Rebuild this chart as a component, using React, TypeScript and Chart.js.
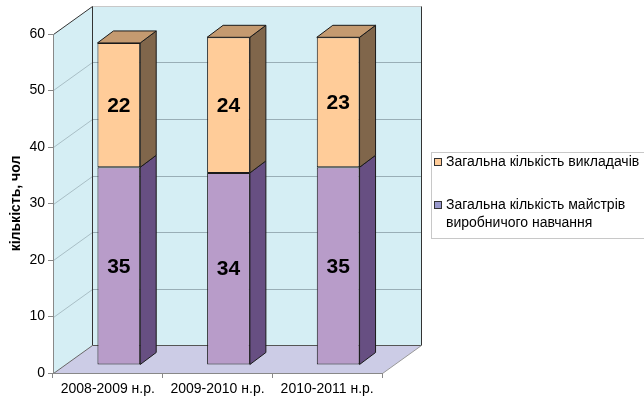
import React, { useEffect, useRef } from 'react';
import { Chart, registerables } from 'chart.js';

Chart.register(...registerables);

const categories = ['2008-2009 н.р.', '2009-2010 н.р.', '2010-2011 н.р.'];
const mastersValues = [35, 34, 35];
const teachersValues = [22, 24, 23];
const seriesNames = [
  'Загальна кількість майстрів виробничого навчання',
  'Загальна кількість викладачів',
];
const legendLines = [
  ['Загальна кількість майстрів', 'виробничого навчання'],
  ['Загальна кількість викладачів'],
];
const yTickValues = [0, 10, 20, 30, 40, 50, 60];
const yTitle = 'кількість, чол';

const FONT = "'Liberation Sans', Arial, sans-serif";
const frontColors = ['#B89CC9', '#FFCC99'];
const sideColors = ['#674F82', '#80664B'];
const topColors = ['#8F78A6', '#C49A70'];
const legendSwatch = ['#9999CC', '#FFCC99'];

// 3D geometry
const DX = 39;
const DY = -28;
const FRONT_F = 0.29;
const BAR_F = 0.42;

function poly(ctx: CanvasRenderingContext2D, pts: number[][], fill?: string, stroke?: string) {
  ctx.beginPath();
  ctx.moveTo(pts[0][0], pts[0][1]);
  for (let i = 1; i < pts.length; i++) ctx.lineTo(pts[i][0], pts[i][1]);
  ctx.closePath();
  if (fill) {
    ctx.fillStyle = fill;
    ctx.fill();
  }
  if (stroke) {
    ctx.strokeStyle = stroke;
    ctx.lineWidth = 1;
    ctx.stroke();
  }
}

function line(ctx: CanvasRenderingContext2D, pts: number[][], stroke: string) {
  ctx.beginPath();
  ctx.moveTo(pts[0][0], pts[0][1]);
  for (let i = 1; i < pts.length; i++) ctx.lineTo(pts[i][0], pts[i][1]);
  ctx.strokeStyle = stroke;
  ctx.lineWidth = 1;
  ctx.stroke();
}

const wallsPlugin = {
  id: 'walls3d',
  beforeDraw(chart: any) {
    const { ctx, chartArea: a, scales } = chart;
    const ys = scales.y;
    const L = Math.round(a.left) + 0.5;
    const R = Math.round(a.right) + 0.5;
    const T = Math.round(ys.getPixelForValue(60)) + 0.5;
    const B = Math.round(ys.getPixelForValue(0)) + 0.5;
    ctx.save();
    const wall = '#D5EEF4';
    poly(ctx, [[L + DX, B + DY], [R + DX, B + DY], [R + DX, T + DY], [L + DX, T + DY]], wall);
    poly(ctx, [[L, B], [L, T], [L + DX, T + DY], [L + DX, B + DY]], wall);
    poly(ctx, [[L, B], [R, B], [R + DX, B + DY], [L + DX, B + DY]], '#CCCCE6');
    yTickValues.forEach((v) => {
      if (v === 0 || v === 60) return;
      const p = Math.round(ys.getPixelForValue(v)) + 0.5;
      line(ctx, [[L, p], [L + DX, p + DY]], '#A9BFC6');
      line(ctx, [[L + DX, p + DY], [R + DX, p + DY]], '#99AEB6');
    });
    // edges
    line(ctx, [[L + DX, T + DY], [R + DX, T + DY]], '#C8C8C8');
    line(ctx, [[R + DX, T + DY], [R + DX, B + DY]], '#333333');
    line(ctx, [[L + DX, B + DY], [R + DX, B + DY]], '#555555');
    line(ctx, [[L + DX, T + DY], [L + DX, B + DY]], '#333333');
    line(ctx, [[L, T], [L + DX, T + DY]], '#333333');
    line(ctx, [[L, B], [L + DX, B + DY]], '#666666');
    line(ctx, [[R, B], [R + DX, B + DY]], '#999999');
    ctx.restore();
  },
};

const barsPlugin = {
  id: 'bars3d',
  beforeDatasetsDraw(chart: any) {
    const ctx = chart.ctx;
    ctx.save();
    ctx.translate(Math.round(DX * FRONT_F), Math.round(DY * FRONT_F));
  },
  afterDatasetsDraw(chart: any) {
    const ctx = chart.ctx;
    const bx = Math.round(DX * BAR_F);
    const by = Math.round(DY * BAR_F);
    const n = chart.data.datasets.length;
    chart.data.datasets.forEach((ds: any, di: number) => {
      const meta = chart.getDatasetMeta(di);
      meta.data.forEach((bar: any) => {
        const { x, y, base, width } = bar.getProps(['x', 'y', 'base', 'width'], true);
        const l = x - width / 2;
        const r = x + width / 2;
        poly(ctx, [[r, y], [r + bx, y + by], [r + bx, base + by], [r, base]], sideColors[di], '#1a1a1a');
        if (di === n - 1) {
          poly(ctx, [[l, y], [l + bx, y + by], [r + bx, y + by], [r, y]], topColors[di], '#1a1a1a');
        }
      });
    });
    ctx.fillStyle = '#000';
    ctx.font = `bold 21px ${FONT}`;
    ctx.textAlign = 'center';
    ctx.textBaseline = 'middle';
    chart.data.datasets.forEach((ds: any, di: number) => {
      const meta = chart.getDatasetMeta(di);
      meta.data.forEach((bar: any, i: number) => {
        const { x, y, base } = bar.getProps(['x', 'y', 'base'], true);
        ctx.fillText(String(ds.data[i]), x, (y + base) / 2 + 1);
      });
    });
    ctx.restore();
  },
};

const legendPlugin = {
  id: 'legendBox',
  afterDraw(chart: any) {
    const ctx = chart.ctx;
    ctx.save();
    ctx.strokeStyle = '#C8C8C8';
    ctx.lineWidth = 1;
    ctx.strokeRect(431.5, 152.5, 300, 86);
    ctx.font = `14px ${FONT}`;
    ctx.textAlign = 'left';
    ctx.textBaseline = 'middle';
    const items = [
      { lines: legendLines[1], color: legendSwatch[1], y: 162 },
      { lines: legendLines[0], color: legendSwatch[0], y: 205 },
    ];
    items.forEach((it) => {
      ctx.fillStyle = it.color;
      ctx.fillRect(434.5, it.y - 3.5, 7, 7);
      ctx.strokeStyle = '#333';
      ctx.strokeRect(434.5, it.y - 3.5, 7, 7);
      ctx.fillStyle = '#000';
      it.lines.forEach((t, k) => ctx.fillText(t, 446, it.y + k * 18));
    });
    ctx.restore();
  },
};

export default function App() {
  const ref = useRef<HTMLCanvasElement | null>(null);
  useEffect(() => {
    if (!ref.current) return;
    const font14 = { family: FONT, size: 14 };
    const chart = new Chart(ref.current, {
      type: 'bar',
      data: {
        labels: categories,
        datasets: [
          {
            label: seriesNames[0],
            data: mastersValues,
            backgroundColor: frontColors[0],
            borderColor: '#1a1a1a',
            borderWidth: 1,
            borderSkipped: false,
            categoryPercentage: 1,
            barPercentage: 0.39,
          },
          {
            label: seriesNames[1],
            data: teachersValues,
            backgroundColor: frontColors[1],
            borderColor: '#1a1a1a',
            borderWidth: 1,
            borderSkipped: false,
            categoryPercentage: 1,
            barPercentage: 0.39,
          },
        ],
      },
      options: {
        responsive: false,
        animation: false,
        layout: { padding: { left: 0, top: 34, right: 262, bottom: 0 } },
        plugins: { legend: { display: false }, tooltip: { enabled: false } },
        scales: {
          x: {
            stacked: true,
            offset: true,
            grid: { offset: true, drawOnChartArea: false, drawTicks: true, tickLength: 5, color: '#888' },
            border: { color: '#888' },
            ticks: { font: font14, color: '#000', padding: 3, maxRotation: 0, autoSkip: false },
            afterFit: (s: any) => {
              s.height = 29;
            },
          },
          y: {
            stacked: true,
            min: 0,
            max: 60,
            afterBuildTicks: (s: any) => {
              s.ticks = yTickValues.map((v) => ({ value: v }));
            },
            grid: { drawOnChartArea: false, drawTicks: true, tickLength: 5, color: '#888' },
            border: { color: '#888' },
            ticks: { font: font14, color: '#000', padding: 3 },
            title: {
              display: true,
              text: yTitle,
              color: '#000',
              font: { family: FONT, size: 14, weight: 'bold' },
              padding: { top: 8, bottom: 0 },
            },
            afterFit: (s: any) => {
              s.width = 53;
            },
          },
        },
      },
      plugins: [wallsPlugin, barsPlugin, legendPlugin],
    } as any);
    return () => chart.destroy();
  }, []);
  return (
    <div style={{ position: 'fixed', left: 0, top: 0, width: 644, height: 402, background: '#fff' }}>
      <canvas ref={ref} width={644} height={402} style={{ display: 'block', width: 644, height: 402 }} />
    </div>
  );
}
